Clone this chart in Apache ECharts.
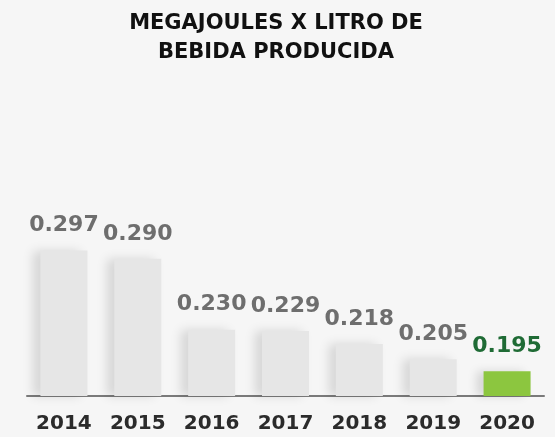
<!DOCTYPE html>
<html>
<head>
<meta charset="utf-8">
<script src="https://cdn.jsdelivr.net/npm/echarts@6/dist/echarts.min.js"></script>
<style>
  html, body { margin: 0; padding: 0; background: #f6f6f6; }
  #chart { width: 555px; height: 437px; }
</style>
</head>
<body>
<div id="chart"></div>
<script>
// datos del gráfico
const years = ['2014', '2015', '2016', '2017', '2018', '2019', '2020'];
const megajoules = [0.297, 0.290, 0.230, 0.229, 0.218, 0.205, 0.195];
const highlightYear = '2020';

const chart = echarts.init(document.getElementById('chart'));

const barData = megajoules.map((v, i) => {
  const hl = years[i] === highlightYear;
  return {
    value: v,
    itemStyle: hl ? { color: '#8cc63f' } : {},
    label: hl ? { color: '#1f6b35' } : {}
  };
});

const option = {
  backgroundColor: '#f6f6f6',
  title: {
    text: 'MEGAJOULES X LITRO DE\nBEBIDA PRODUCIDA',
    left: 271,
    top: 4,
    textAlign: 'center',
    textStyle: {
      fontFamily: 'DejaVu Sans',
      fontWeight: 'bold',
      fontSize: 21,
      lineHeight: 29,
      color: '#111'
    }
  },
  grid: { left: 27, right: 11, top: 247, bottom: 41 },
  xAxis: {
    type: 'category',
    data: years,
    axisLine: { lineStyle: { color: '#7a7a7a', width: 2 } },
    axisTick: { show: false },
    axisLabel: {
      margin: 18,
      fontFamily: 'DejaVu Sans',
      fontWeight: 'bold',
      fontSize: 20,
      color: '#2b2b2b'
    }
  },
  yAxis: {
    type: 'value',
    min: 0.174,
    max: 0.300,
    show: false,
    splitLine: { show: false }
  },
  series: [{
    type: 'bar',
    data: barData,
    barWidth: 47,
    itemStyle: {
      color: '#e6e6e6',
      shadowColor: 'rgba(0,0,0,0.13)',
      shadowBlur: 10,
      shadowOffsetX: -7,
      shadowOffsetY: 0
    },
    label: {
      show: true,
      position: 'top',
      distance: 14,
      formatter: p => p.value.toFixed(3),
      fontFamily: 'DejaVu Sans',
      fontWeight: 'bold',
      fontSize: 22,
      color: '#6e6e6e'
    }
  }]
};

chart.setOption(option);
</script>
</body>
</html>
